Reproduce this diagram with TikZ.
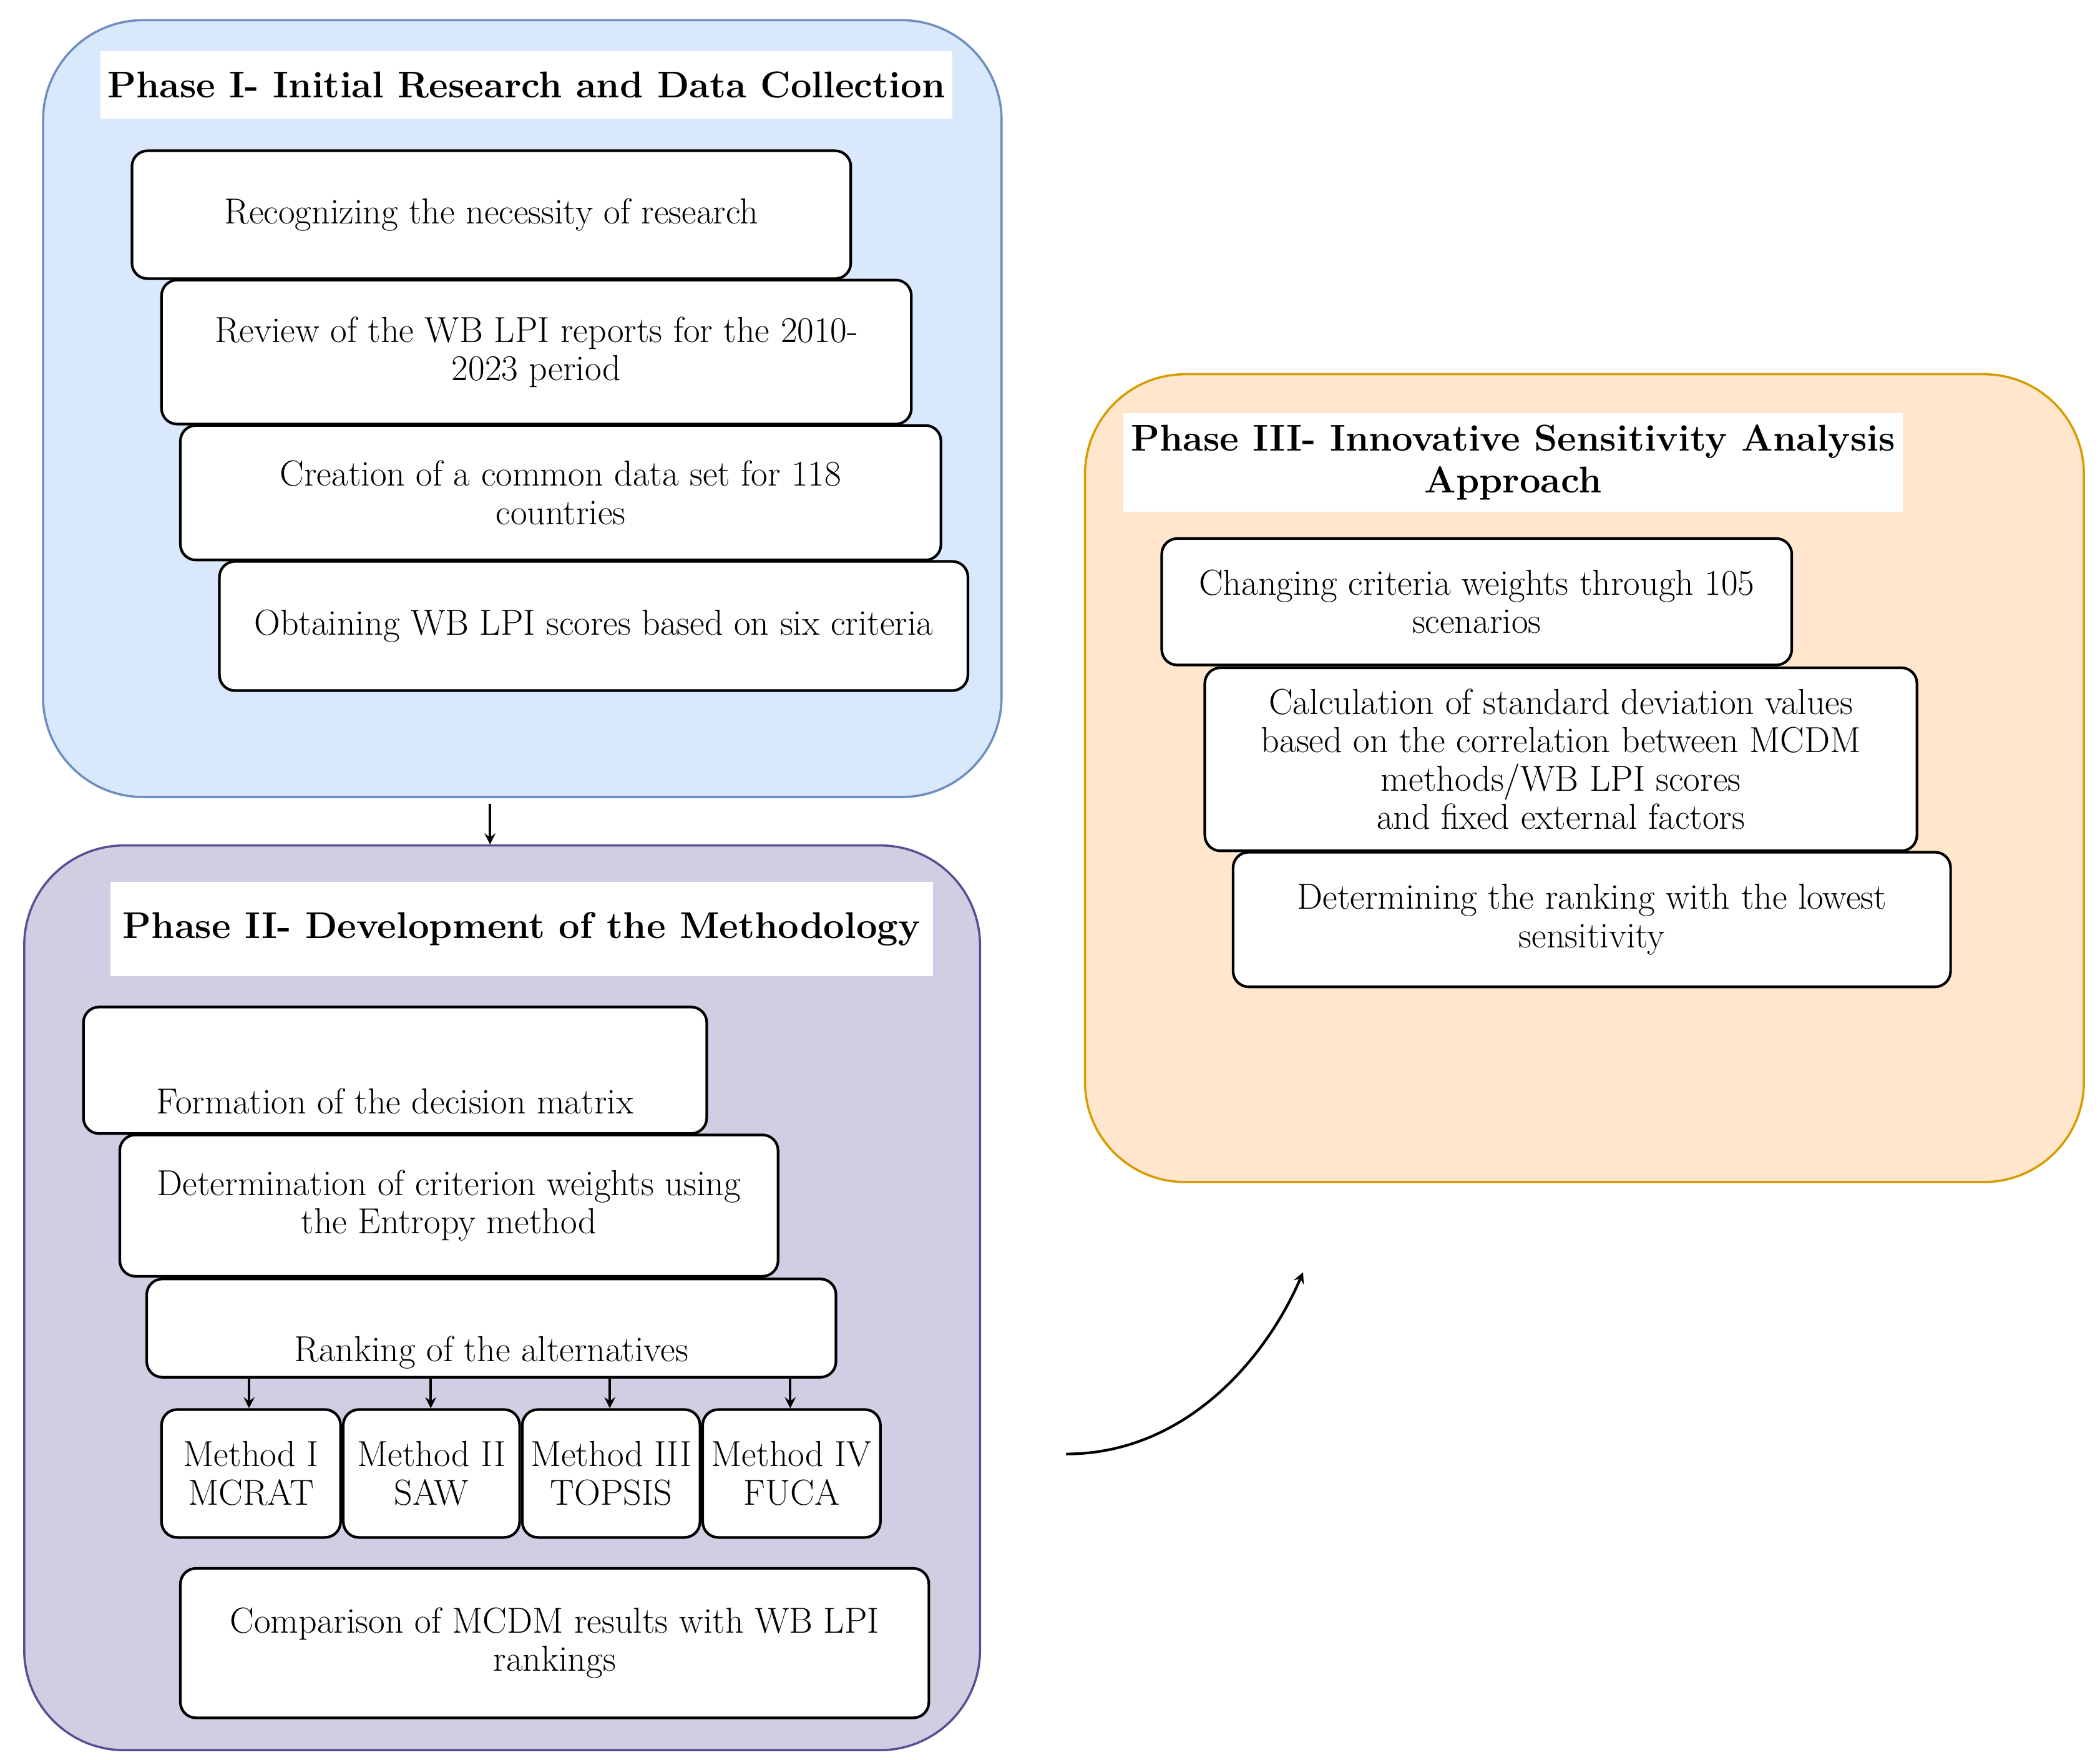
\documentclass[tikz,border=0pt]{standalone}
\usepackage{tikz}
\usetikzlibrary{arrows}
\definecolor{bluefill}{RGB}{218,232,252}
\definecolor{bluedraw}{RGB}{108,142,191}
\definecolor{purpfill}{RGB}{208,206,226}
\definecolor{purpdraw}{RGB}{86,79,148}
\definecolor{orfill}{RGB}{255,230,204}
\definecolor{ordraw}{RGB}{215,155,0}
\tikzstyle{phase}=[rectangle,rounded corners=1.6cm,line width=1pt]
\tikzstyle{title}=[rectangle,fill=white,align=center,font=\fontsize{17}{19}\selectfont\bfseries]
\tikzstyle{stepbox}=[rectangle,rounded corners=0.25cm,draw=black,fill=white,line width=1.2pt,
align=center,inner sep=1pt,font=\fontsize{16.5}{17.5}\selectfont]
\tikzstyle{arrow}=[line width=1.2pt,->,>=stealth]
\tikzset{sz/.style 2 args={minimum width=#1*0.02157cm,minimum height=#2*0.02157cm}}

\begin{document}
\begin{tikzpicture}[x=0.02157cm,y=-0.02157cm]
    \useasboundingbox (0,0) rectangle (1560,1307);
    % containers
    \node (ph1) [phase,draw=bluedraw,fill=bluefill,sz={712}{577}] at (388,303.5) {};
    \node (ph2) [phase,draw=purpdraw,fill=purpfill,sz={710}{672}] at (373,964) {};
    \node (ph3) [phase,draw=ordraw,fill=orfill,sz={742}{600}] at (1177,578) {};
    % phase I
    \node (t1) [title,sz={622}{50}] at (391,63) {Phase I- Initial Research and Data Collection};
    \node (a1) [stepbox,sz={534}{95}] at (365,159.5) {Recognizing the necessity of research};
    \node (a2) [stepbox,sz={557}{107}] at (398.5,261.5) {Review of the WB LPI reports for the 2010-\\2023 period};
    \node (a3) [stepbox,sz={565}{100}] at (416.5,366) {Creation of a common data set for 118\\countries};
    \node (a4) [stepbox,sz={556}{96}] at (441,465) {Obtaining WB LPI scores based on six criteria};
    % phase II
    \node (t2) [title,sz={611}{70}] at (387.5,690) {Phase II- Development of the Methodology};
    \node (b1) [stepbox,sz={463}{94},text height=40pt] at (293.5,795) {Formation of the decision matrix};
    \node (b2) [stepbox,sz={489}{105}] at (333.5,895.5) {Determination of criterion weights using\\the Entropy method};
    \node (b3) [stepbox,sz={512}{73},text height=34pt] at (365,986.5) {Ranking of the alternatives};
    \node (m1) [stepbox,sz={133}{95}] at (186.5,1094.5) {Method I\\MCRAT};
    \node (m2) [stepbox,sz={131}{95}] at (320.5,1094.5) {Method II\\SAW};
    \node (m3) [stepbox,sz={132}{95}] at (454,1094.5) {Method III\\TOPSIS};
    \node (m4) [stepbox,sz={132}{95}] at (588,1094.5) {Method IV\\FUCA};
    \node (b4) [stepbox,sz={556}{111}] at (412,1220.5) {Comparison of MCDM results with WB LPI\\rankings};
    % phase III
    \node (t3) [title,sz={576}{73}] at (1124,343.5) {Phase III- Innovative Sensitivity Analysis\\Approach};
    \node (c1) [stepbox,sz={468}{94}] at (1097,447) {Changing criteria weights through 105\\scenarios};
    \node (c2) [stepbox,sz={529}{136}] at (1159.5,564) {Calculation of standard deviation values\\based on the correlation between MCDM\\methods/WB LPI scores\\and fixed external factors};
    \node (c3) [stepbox,sz={533}{100}] at (1182.5,683) {Determining the ranking with the lowest\\sensitivity};
    % arrows
    \draw [arrow] (364,597) -- (ph2.north -| 364,0);
    \foreach \m/\x in {m1/185,m2/320,m3/453,m4/587}
        \draw [arrow] (b3.south -| \x,0) -- (\m.north -| \x,0);
    \coordinate (cs) at (792,1080);
    \coordinate (ce) at (968,945);
    \draw [arrow] (cs) .. controls (880,1080) and (940,1010) .. (ce);
\end{tikzpicture}
\end{document}
